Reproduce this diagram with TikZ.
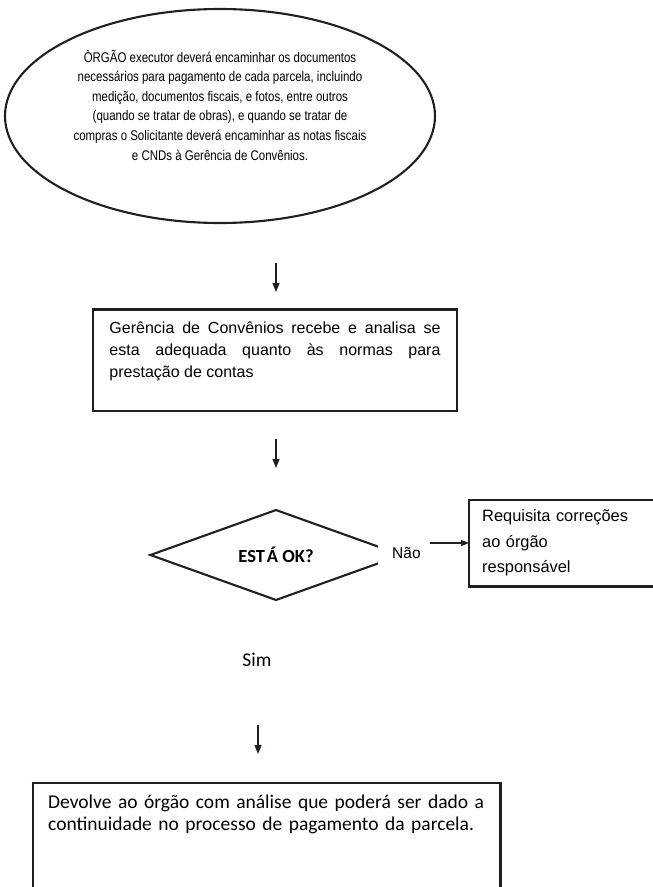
\documentclass[tikz,border=0pt]{standalone}
\usepackage{fontspec}
\setmainfont{Liberation Sans}
\newfontfamily\arialfont{Liberation Sans}
\newfontfamily\narrowfont[FakeStretch=0.82]{Liberation Sans}
\newfontfamily\calfont{Carlito}
\usetikzlibrary{shapes.geometric,arrows.meta}
\definecolor{ink}{HTML}{231F20}
\tikzset{
  boxline/.style={draw=ink, line width=2.7bp},
  thinline/.style={draw=ink, line width=2.1bp},
  arr/.style={draw=ink, line width=1.2bp, -{Triangle[length=9bp,width=7bp]}},
  smallarr/.style={draw=ink, line width=1.1bp, -{Triangle[length=8bp,width=6bp]}},
}
\begin{document}
\begin{tikzpicture}[x=1bp,y=-1bp]
\useasboundingbox (0,0) rectangle (653,887);
\fill[white] (0,0) rectangle (653,887);

% ellipse
\node[ellipse, thinline, minimum width=430bp, minimum height=214bp, inner sep=0pt,
      align=center, font=\narrowfont\fontsize{14bp}{19.6bp}\selectfont] (start) at (220,116)
  {ÒRGÃO executor deverá encaminhar os documentos\\
   necessários para pagamento de cada parcela, incluindo\\
   medição, documentos fiscais, e fotos, entre outros\\
   (quando se tratar de obras), e quando se tratar de\\
   compras o Solicitante deverá encaminhar as notas fiscais\\
   e CNDs à Gerência de Convênios.\rule[-22bp]{0pt}{1bp}};

% arrow 1
\coordinate (a1s) at (276,263);
\coordinate (a1e) at (276,292);
\draw[arr] (a1s) -- (a1e);

% Gerencia box
\node[boxline, anchor=north, inner xsep=16.5bp, inner ysep=12bp, text width=331bp, align=justify,
      font=\arialfont\fontsize{16bp}{22bp}\selectfont] (ger) at (275,308)
  {Gerência de Convênios recebe e analisa se\linebreak
   esta adequada quanto às normas para\linebreak
   prestação de contas\rule[-22bp]{0pt}{1bp}};

% arrow 2
\coordinate (a2s) at (276,439);
\coordinate (a2e) at (276,468);
\draw[arr] (a2s) -- (a2e);

% decision
\node[diamond, thinline, minimum width=252bp, minimum height=89bp, inner sep=0pt,
      font=\calfont\bfseries\fontsize{18.5bp}{20bp}\selectfont] (ok) at (276,555) {EST\hspace{2bp}Á OK?};

% Nao label covering the diamond tip
\node[fill=white, anchor=west, inner xsep=0pt, minimum height=26bp, text width=52bp, align=left,
      font=\arialfont\fontsize{15.5bp}{18bp}\selectfont] (nao) at (378,553) {\hspace*{14bp}Não};

% Requisita box (open towards the right edge)
\node[anchor=north west, minimum height=86bp, inner xsep=13bp, text width=158bp, align=left,
      font=\arialfont\fontsize{16.4bp}{25.5bp}\selectfont] (req) at (469,500)
  {Requisita correções\\ ao órgão\\ responsável};
\draw[boxline] (req.north east) -- (req.north west) -- (req.south west) -- (req.south east);

% Nao arrow
\coordinate (naos) at (430,543);
\draw[smallarr] (naos) -- (req.west |- naos);

% Sim
\node[font=\calfont\fontsize{19.5bp}{22bp}\selectfont, inner sep=0pt] (sim) at (257,660) {Sim};

% arrow 3
\coordinate (a3s) at (258,725);
\coordinate (a3e) at (258,754);
\draw[arr] (a3s) -- (a3e);

% final box (open towards the bottom edge)
\node[anchor=north west, inner xsep=15bp, inner ysep=12bp, text width=437bp, align=left,
      font=\calfont\fontsize{19.5bp}{22bp}\selectfont] (fin) at (33,783)
  {Devolve ao órgão com análise que poderá ser dado a\\
   continuidade no processo de pagamento da parcela.};
\coordinate (pagebottom) at (0,888);
\draw[boxline] (fin.north west |- pagebottom) -- (fin.north west) -- (fin.north east) -- (fin.north east |- pagebottom);
\end{tikzpicture}
\end{document}
